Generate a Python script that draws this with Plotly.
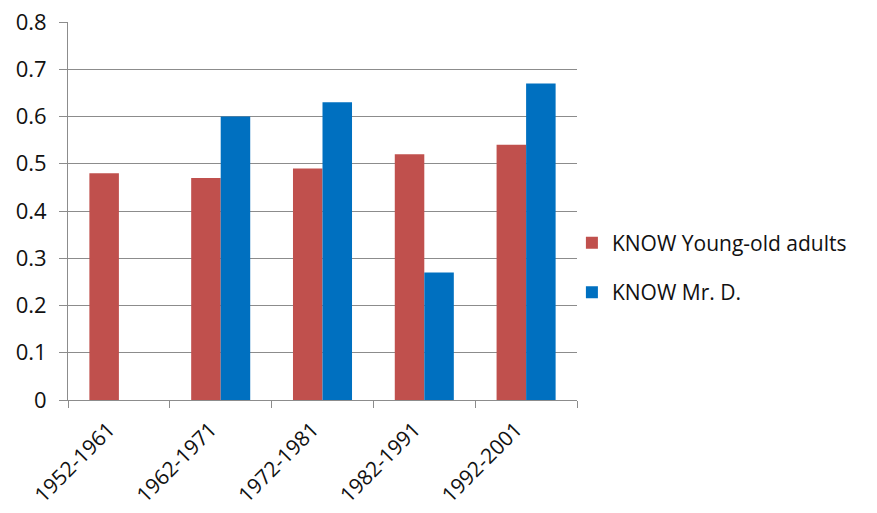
import plotly.graph_objects as go

# Decade ranges on the category axis
periods = ["1952-1961", "1962-1971", "1972-1981", "1982-1991", "1992-2001"]

# Proportion values for each series (None = no bar for that decade)
young_old = [0.48, 0.47, 0.49, 0.52, 0.54]
mr_d = [None, 0.60, 0.63, 0.27, 0.67]

y_ticks = [0, 0.1, 0.2, 0.3, 0.4, 0.5, 0.6, 0.7, 0.8]
y_tick_text = ["0", "0.1", "0.2", "0.3", "0.4", "0.5", "0.6", "0.7", "0.8"]

FONT = "Open Sans, Liberation Sans, sans-serif"
TEXT = "#111111"
AXIS = "#8c8c8c"

fig = go.Figure()
fig.add_trace(go.Bar(
    x=periods, y=young_old, name="KNOW Young-old adults",
    marker=dict(color="#C0504D", line=dict(width=0)),
    legendgroup="a",
))
fig.add_trace(go.Bar(
    x=periods, y=mr_d, name="KNOW Mr. D.",
    marker=dict(color="#0070C0", line=dict(width=0)),
    legendgroup="b",
))

fig.update_layout(
    width=877, height=513,
    margin=dict(l=68, r=300, t=22, b=113, autoexpand=False),
    paper_bgcolor="white", plot_bgcolor="white",
    barmode="group", bargap=0.42, bargroupgap=0,
    font=dict(family=FONT, size=22, color=TEXT),
    showlegend=True,
    legend=dict(
        x=0.99, xanchor="left", y=0.35, yanchor="middle",
        font=dict(family=FONT, size=21, color=TEXT),
        tracegroupgap=19, itemwidth=30, bgcolor="rgba(0,0,0,0)",
    ),
)

fig.update_xaxes(
    type="category",
    automargin=False,
    tickangle=-45,
    tickson="boundaries",
    ticks="outside", ticklen=7, tickcolor=AXIS, tickwidth=1,
    showline=True, linecolor=AXIS, linewidth=1,
    showgrid=False,
    ticklabelstandoff=8, ticklabelshift=-10,
    tickfont=dict(family=FONT, size=21, color=TEXT),
)
fig.update_yaxes(
    range=[0, 0.8],
    automargin=False,
    tickvals=y_ticks, ticktext=y_tick_text,
    ticks="outside", ticklen=8, tickcolor=AXIS, tickwidth=1,
    showline=True, linecolor=AXIS, linewidth=1,
    showgrid=True, gridcolor=AXIS, gridwidth=1,
    zeroline=False,
    ticklabelstandoff=8,
    tickfont=dict(family=FONT, size=22, color=TEXT),
)

fig.write_html("out.html")
